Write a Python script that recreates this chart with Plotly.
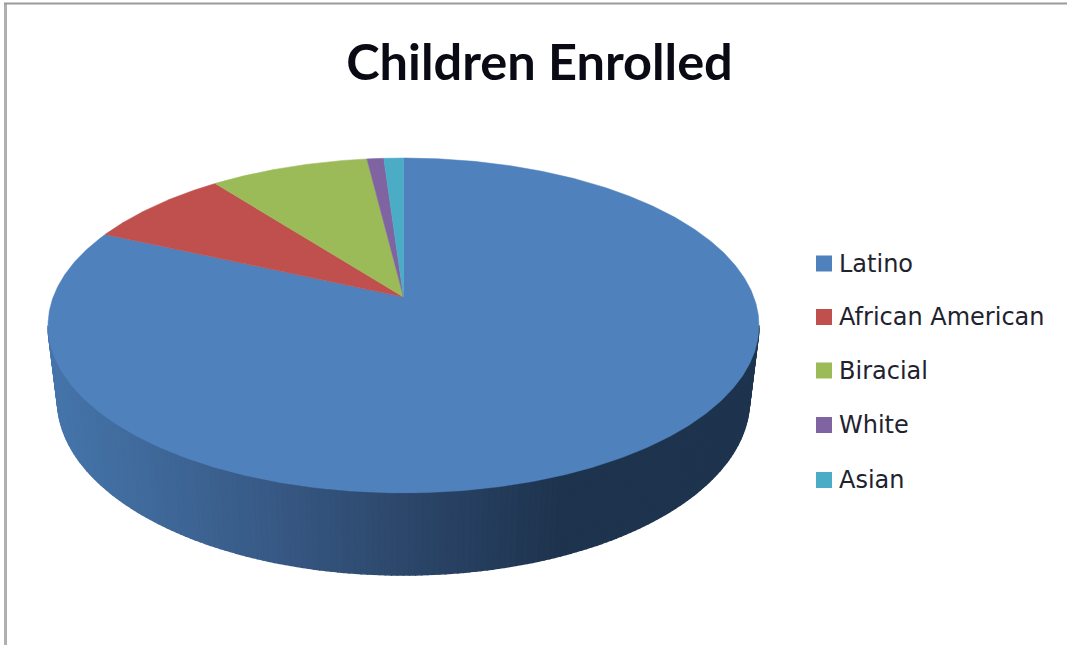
import numpy as np
import plotly.graph_objects as go

# Data
categories = ["Latino", "African American", "Biracial", "White", "Asian"]
values = [81.8, 7.8, 8.5, 0.9, 1.05]
colors = ["#4F81BD", "#C0504D", "#9BBB59", "#8064A2", "#4BACC6"]
title_text = "Children Enrolled"

# Canvas (pixel-like axes)
W, H = 1067, 645
APEX_X, APEX_Y = 403.5, 297.0
R, A, C = 350.3, 162.6, 0.170


def project(phi):
    """Perspective view of the pie's top face; phi is clockwise from 12 o'clock."""
    s = np.cos(phi)
    return APEX_X + R * np.sin(phi) / (1 + C * s), APEX_Y - A * s / (1 + C * s)


fig = go.Figure()

# Side wall, shaded left (lighter) to right (darker)
shade_x = [48, 150, 270, 400, 480, 560, 760]
shade_r = [70, 64, 56, 45, 38, 30, 30]
shade_g = [118, 106, 90, 72, 62, 52, 52]
shade_b = [172, 155, 134, 108, 94, 78, 78]
bands = np.linspace(0, np.pi, 181)
for a0, a1 in zip(bands[:-1], bands[1:]):
    t = np.array([a0, a1])
    top_x = 403.5 - 355.5 * np.cos(t)
    top_y = 325.5 + 167.5 * np.sin(t)
    bot_x = 403.5 - 346 * np.cos(t)
    bot_y = 400 + 175 * np.sin(t)
    mid = (top_x.mean() + bot_x.mean()) / 2
    col = "rgb(%d,%d,%d)" % (
        np.interp(mid, shade_x, shade_r),
        np.interp(mid, shade_x, shade_g),
        np.interp(mid, shade_x, shade_b),
    )
    fig.add_trace(go.Scatter(
        x=[top_x[0], top_x[1], bot_x[1], bot_x[0], top_x[0]],
        y=[top_y[0], top_y[1], bot_y[1], bot_y[0], top_y[0]],
        mode="lines", fill="toself", fillcolor=col,
        line=dict(color=col, width=1.5), hoverinfo="skip", showlegend=False,
    ))

# Top face slices
total = sum(values)
start = 0.0
for name, val, col in zip(categories, values, colors):
    end = start + val / total * 2 * np.pi
    phi = np.linspace(start, end, max(int(val * 8), 6))
    px, py = project(phi)
    fig.add_trace(go.Scatter(
        x=np.r_[APEX_X, px, APEX_X], y=np.r_[APEX_Y, py, APEX_Y],
        mode="lines", fill="toself", fillcolor=col,
        line=dict(color=col, width=0.5), name=name,
        hovertemplate=f"{name}: {val}<extra></extra>", showlegend=False,
    ))
    start = end

# Legend
legend_y = [263.5, 317, 370.5, 425, 480]
annotations = []
for name, col, ly in zip(categories, colors, legend_y):
    fig.add_trace(go.Scatter(
        x=[824], y=[ly], mode="markers",
        marker=dict(symbol="square", size=16, color=col, line=dict(width=0)),
        hoverinfo="skip", showlegend=False,
    ))
    annotations.append(dict(
        x=839, y=ly, xref="x", yref="y", text=name, showarrow=False,
        xanchor="left", yanchor="middle", xshift=-2,
        font=dict(family="DejaVu Sans", size=24, color="#22222e"),
    ))

shapes = [
    dict(type="line", xref="x", yref="y", x0=5.5, x1=5.5, y0=3, y1=H,
         line=dict(color="#b0b0b0", width=3)),
    dict(type="line", xref="x", yref="y", x0=4, x1=W, y0=3.5, y1=3.5,
         line=dict(color="#9a9a9a", width=2)),
]

fig.update_layout(
    width=W, height=H, autosize=False,
    margin=dict(l=0, r=0, t=0, b=0),
    paper_bgcolor="white", plot_bgcolor="white",
    title=dict(text=f"<b>{title_text}</b>", x=539.5 / W, xanchor="center",
               y=1 - 62 / H, yanchor="middle",
               font=dict(family="Lato", size=50.5, color="#0a0a14")),
    xaxis=dict(range=[0, W], visible=False, fixedrange=True),
    yaxis=dict(range=[H, 0], visible=False, fixedrange=True),
    annotations=annotations, shapes=shapes, showlegend=False,
)

fig.write_html(
    "out.html",
    config={"displayModeBar": False},
    post_script="document.body.style.margin='0';document.documentElement.style.overflow='hidden';",
)
